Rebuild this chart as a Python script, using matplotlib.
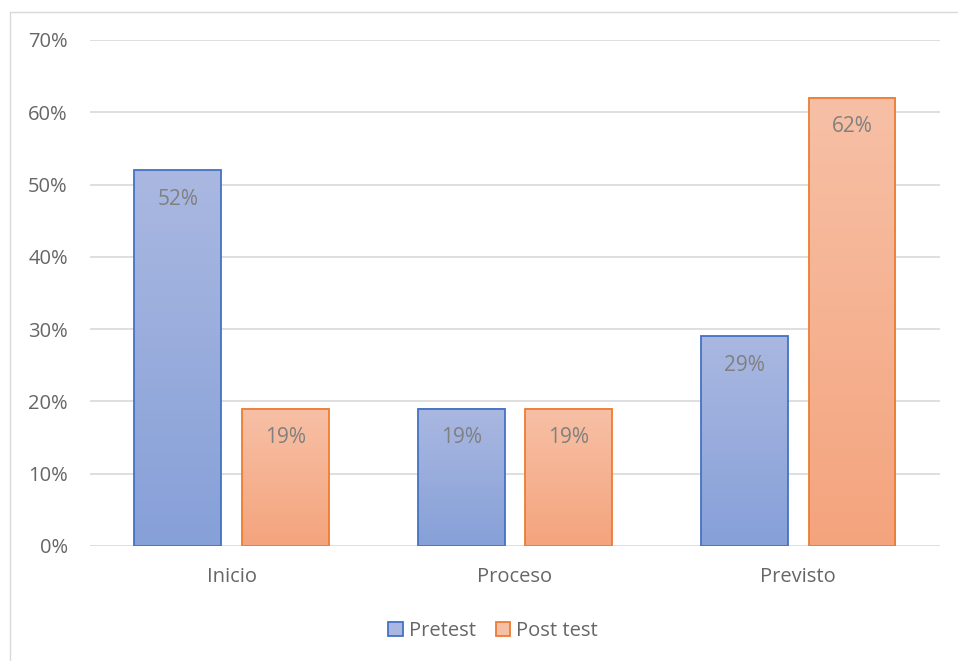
import numpy as np
import matplotlib.pyplot as plt
from matplotlib.patches import Rectangle, Patch
from matplotlib.colors import LinearSegmentedColormap

# Datos
categorias = ["Inicio", "Proceso", "Previsto"]
pretest = [52, 19, 29]
post_test = [19, 19, 62]
series = ["Pretest", "Post test"]

plt.rcParams['font.family'] = ['Open Sans', 'DejaVu Sans']

fig = plt.figure(figsize=(9.58, 6.61), dpi=100)
ax = fig.add_axes([0.094, 0.174, 0.887, 0.7655])

# borde exterior del grafico
fig.patches.append(Rectangle((10/958, -0.01), 1.0, (661-12)/661 + 0.01,
                             transform=fig.transFigure, fill=False,
                             edgecolor="#d9d9d9", lw=1.0))

x = np.arange(len(categorias))
w = 0.307
off = 0.19

estilos = [
    ("#4472c4", "#aab8e1", "#86a0d8"),
    ("#ed7d31", "#f7c0a6", "#f4a47d"),
]

grad = np.linspace(1, 0, 256).reshape(-1, 1)
for datos, dx, (borde, top, bot), nombre in zip([pretest, post_test], [-off, off], estilos, series):
    cmap = LinearSegmentedColormap.from_list(nombre, [bot, top])
    bars = ax.bar(x + dx, datos, w, facecolor="none", edgecolor=borde, lw=1.3,
                  zorder=3, label=nombre)
    for b, v in zip(bars, datos):
        x0 = b.get_x()
        ax.imshow(grad, cmap=cmap, aspect="auto", zorder=2,
                  extent=[x0, x0 + w, 0, v])
        ax.text(x0 + w/2, v - 4, f"{v}%", ha="center", va="center",
                fontsize=15, color="#808080", zorder=4)

ax.set_xlim(-0.5, 2.5)
ax.set_ylim(0, 70)
ax.set_yticks(range(0, 71, 10))
ax.set_yticklabels([f"{t}%" for t in range(0, 71, 10)])
ax.set_xticks(x)
ax.set_xticklabels(categorias)
ax.tick_params(length=0, labelsize=14.5, labelcolor="#666666")
ax.tick_params(axis="y", pad=16)
ax.tick_params(axis="x", pad=15)
for s in ax.spines.values():
    s.set_visible(False)
ax.yaxis.grid(True, color="#d9d9d9", lw=1.2, zorder=0)
ax.set_axisbelow(True)

# leyenda con cuadrados rellenos
handles = [Patch(facecolor=estilos[0][1], edgecolor=estilos[0][0], lw=1.3, label=series[0]),
           Patch(facecolor=estilos[1][1], edgecolor=estilos[1][0], lw=1.3, label=series[1])]
fig.legend(handles=handles, loc="center", bbox_to_anchor=(493/958, 1 - 631/661),
           ncol=2, frameon=False, fontsize=14.5, handlelength=0.7, handleheight=0.7,
           columnspacing=1.0, handletextpad=0.3, labelcolor="#666666")

fig.savefig("out.png", dpi=100)
